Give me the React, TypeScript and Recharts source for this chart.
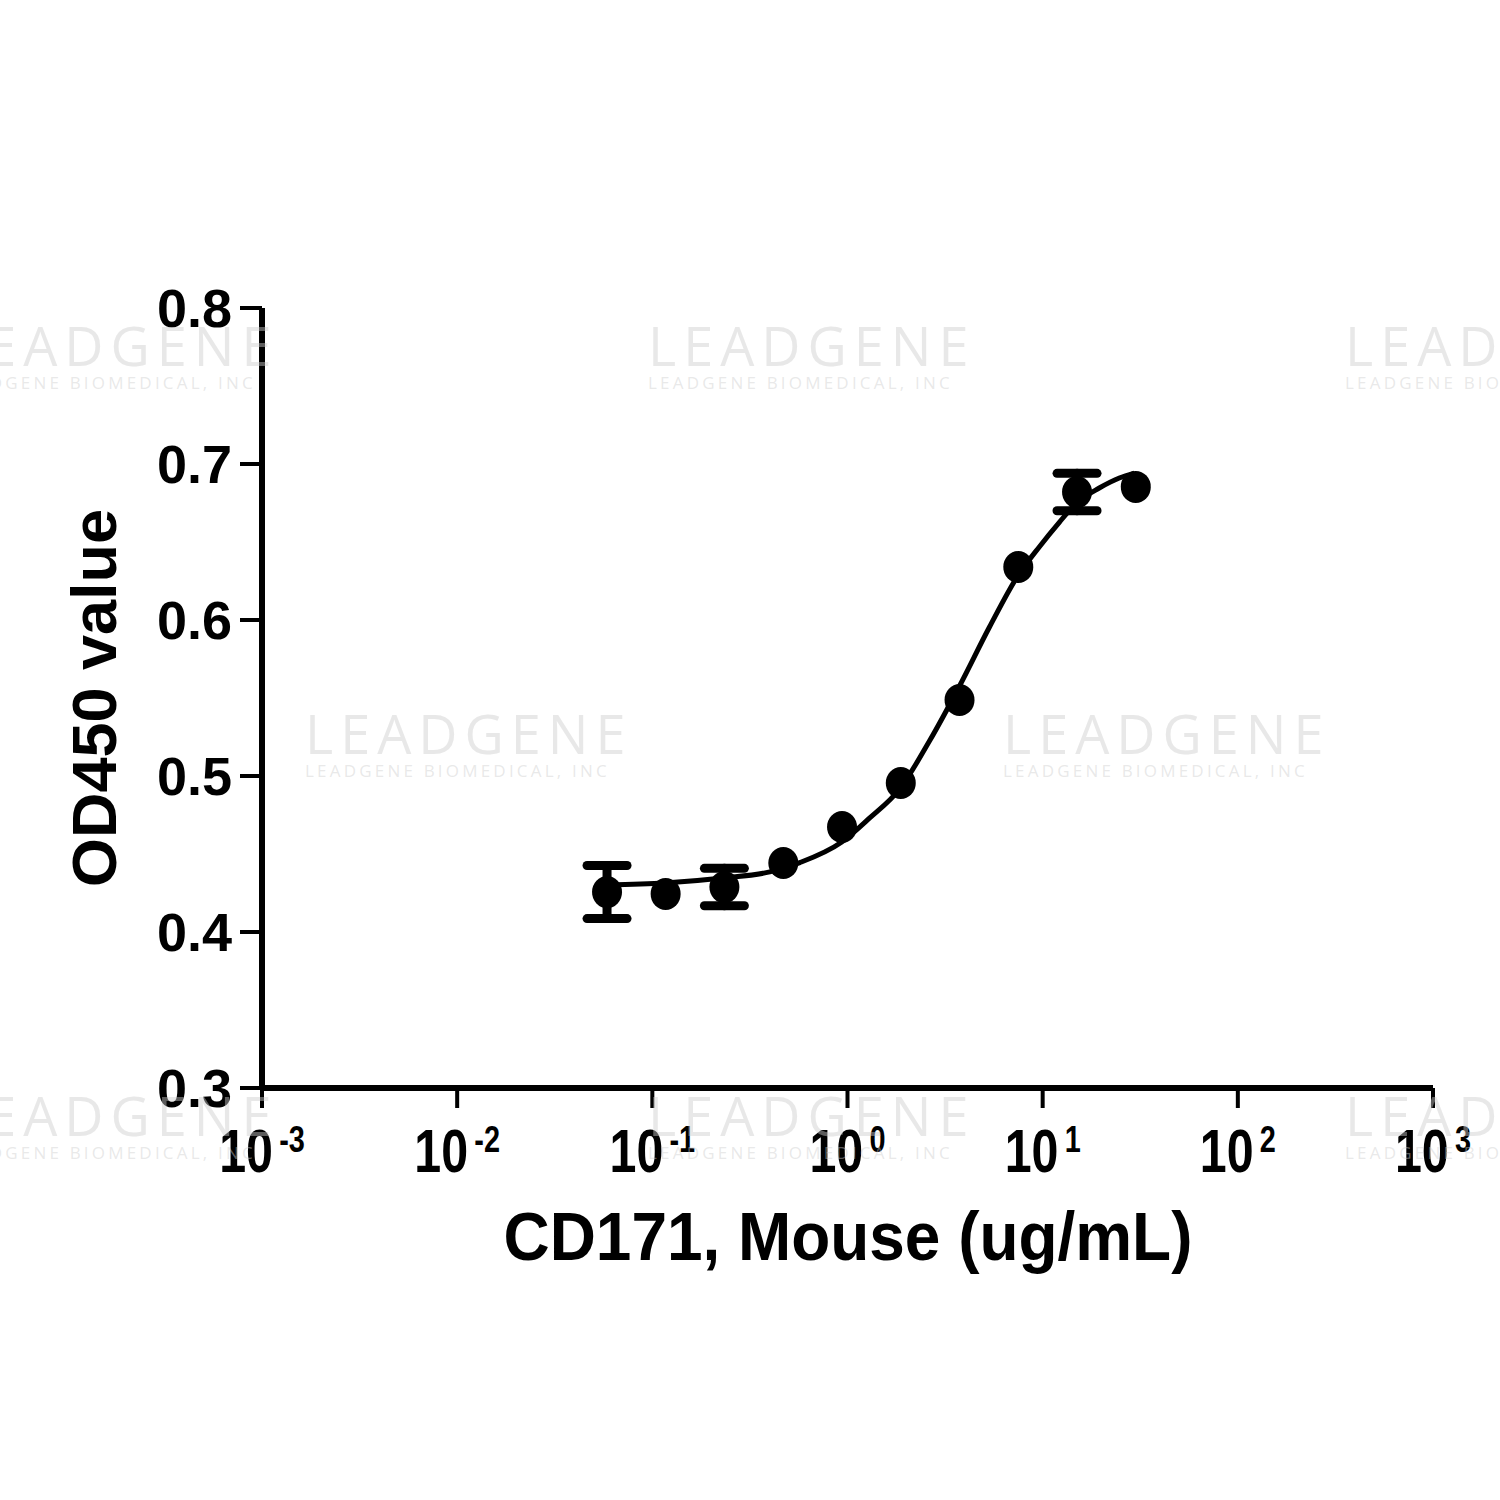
import {
  ComposedChart, Line, Scatter, ErrorBar, XAxis, YAxis, Label,
} from 'recharts'

// measured points (2-fold dilution series)
const concentrations = [0.0586, 0.117, 0.234, 0.469, 0.9375, 1.875, 3.75, 7.5, 15, 30]
const od450Mean = [0.4256, 0.4244, 0.4288, 0.4442, 0.4673, 0.4955, 0.5487, 0.634, 0.682, 0.6853]
const od450Sd = [0.017, null, 0.012, null, null, null, null, null, 0.012, null]

// fitted curve
const curveX = [0.0585, 0.116, 0.23, 0.4, 0.57, 0.935, 1.3, 1.85, 2.63, 3.75, 5.34, 7.43, 9.63, 12.2, 14.9, 19.5, 24.7, 29.5]
const curveY = [0.4301, 0.4314, 0.4346, 0.4385, 0.4445, 0.4577, 0.4731, 0.4917, 0.5224, 0.5577, 0.5955, 0.628, 0.647, 0.6628, 0.675, 0.6846, 0.691, 0.6942]

const xTicks = [0.001, 0.01, 0.1, 1, 10, 100, 1000]
const yTicks = [0.3, 0.4, 0.5, 0.6, 0.7, 0.8]

const FONT = '"Liberation Sans", Arial, Helvetica, sans-serif'

const points = concentrations.map((x, i) => ({ x, y: od450Mean[i], sd: od450Sd[i] }))
const pointsWithErr = points.filter(p => p.sd != null)
const pointsNoErr = points.filter(p => p.sd == null)
const curve = curveX.map((x, i) => ({ x, y: curveY[i] }))

function PowerTick(props: any) {
  const { x, y, payload } = props
  const exp = Math.round(Math.log10(payload.value))
  return (
    <g transform={`translate(${x},${y}) scale(0.78,1)`}>
      <text x={0} y={62} textAnchor="middle" fontFamily={FONT} fontWeight="bold" fontSize={62} fill="#000">
        10<tspan dx={8} dy={-20} fontSize={37}>{String(exp)}</tspan>
      </text>
    </g>
  )
}

const Dot = (p: any) => <ellipse cx={p.cx} cy={p.cy} rx={15} ry={16} fill="#000" />

const marks = [
  { left: -49, top: 318 }, { left: 648, top: 318 }, { left: 1345, top: 318 },
  { left: 305, top: 706 }, { left: 1003, top: 706 },
  { left: -49, top: 1088 }, { left: 648, top: 1088 }, { left: 1345, top: 1088 },
]

function Watermarks() {
  return (
    <div style={{ position: 'absolute', left: 0, top: 0, width: 1500, height: 1500, overflow: 'hidden', pointerEvents: 'none' }}>
      {marks.map((m, i) => (
        <div key={i} style={{ position: 'absolute', left: m.left, top: m.top, color: 'rgba(205,205,205,0.45)', fontFamily: '"Open Sans", sans-serif', whiteSpace: 'nowrap' }}>
          <div style={{ fontSize: 54, lineHeight: '54px', letterSpacing: 7 }}>LEADGENE</div>
          <div style={{ fontSize: 17, lineHeight: '22px', letterSpacing: 3.2 }}>LEADGENE BIOMEDICAL, INC</div>
        </div>
      ))}
    </div>
  )
}

export default function App() {
  return (
    <div style={{ position: 'absolute', left: 0, top: 0, width: 1500, height: 1500, background: '#fff' }}>
      <ComposedChart width={1500} height={1500} margin={{ top: 308, right: 67, left: 0, bottom: 0 }}>
        <XAxis
          dataKey="x"
          type="number"
          scale="log"
          domain={[0.001, 1000]}
          ticks={xTicks}
          allowDataOverflow
          height={412}
          axisLine={{ stroke: '#000', strokeWidth: 6 }}
          tickLine={{ stroke: '#000', strokeWidth: 4 }}
          tickSize={20}
          tick={<PowerTick />}
          interval={0}
        >
          <Label
            content={() => (
              <text x={848} y={1260} textAnchor="middle" fontFamily={FONT} fontWeight="bold" fontSize={68} fill="#000"
                transform="translate(848,0) scale(0.94,1) translate(-848,0)">
                CD171, Mouse (ug/mL)
              </text>
            )}
          />
        </XAxis>
        <YAxis
          dataKey="y"
          type="number"
          domain={[0.3, 0.8]}
          ticks={yTicks}
          width={262}
          axisLine={{ stroke: '#000', strokeWidth: 6 }}
          tickLine={{ stroke: '#000', strokeWidth: 4 }}
          tickSize={22}
          tickMargin={8}
          tick={{ fill: '#000', fontFamily: FONT, fontWeight: 'bold', fontSize: 54 }}
          tickFormatter={(v: number) => v.toFixed(1)}
          interval={0}
        >
          <Label
            content={() => (
              <text x={116} y={698} textAnchor="middle" fontFamily={FONT} fontWeight="bold" fontSize={63} fill="#000"
                transform="rotate(-90,116,698)">
                OD450 value
              </text>
            )}
          />
        </YAxis>
        <Line data={curve} dataKey="y" type="monotone" stroke="#000" strokeWidth={5} dot={false} isAnimationActive={false} />
        <Scatter data={pointsWithErr} dataKey="y" fill="#000" shape={Dot} isAnimationActive={false}>
          <ErrorBar dataKey="sd" direction="y" width={20} stroke="#000" strokeWidth={9} strokeLinecap="round" isAnimationActive={false} />
        </Scatter>
        <Scatter data={pointsNoErr} dataKey="y" fill="#000" shape={Dot} isAnimationActive={false} />
      </ComposedChart>
      <Watermarks />
    </div>
  )
}
